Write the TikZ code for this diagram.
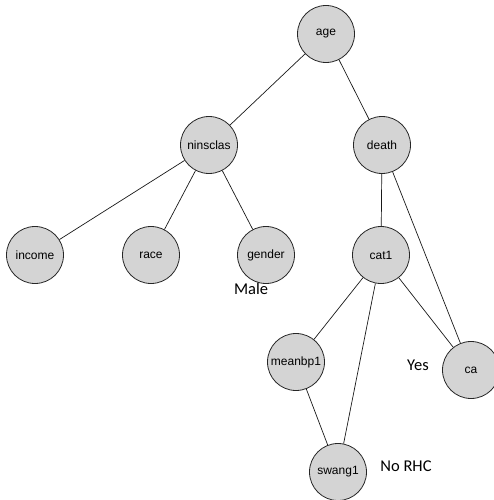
\documentclass[tikz,border=0pt]{standalone}
\usepackage{fontspec}
\setmainfont{Liberation Sans}
\newfontfamily\labelfont{Carlito}
\begin{document}
\begin{tikzpicture}[x=1pt,y=-1pt,
  var/.style={circle, draw=black!85, fill=black!17, line width=0.8pt,
    minimum size=57pt, inner sep=0pt, font=\fontsize{12}{14}\selectfont},
  link/.style={draw=black!90, line width=0.7pt},
  note/.style={font=\labelfont\fontsize{16.5}{19}\selectfont, inner sep=0pt}]
\useasboundingbox (0,0) rectangle (493,500);
% variables
\node[var] (age)      at (326,34)  {age};
\node[var] (ninsclas) at (209,145) {ninsclas};
\node[var] (death)    at (382,145) {death};
\node[var] (income)   at (35,255)  {income};
\node[var] (race)     at (151,255) {race};
\node[var] (gender)   at (266,255) {gender};
\node[var] (cat1)     at (381,255) {cat1};
\node[var] (meanbp1)  at (296,362) {meanbp1};
\node[var] (ca)       at (471,370) {ca};
\node[var] (swang1)   at (338,472) {swang1};
% edges
\draw[link] (age) -- (ninsclas);
\draw[link] (age) -- (death);
\draw[link] (ninsclas) -- (income);
\draw[link] (ninsclas) -- (race);
\draw[link] (ninsclas) -- (gender);
\draw[link] (death) -- (cat1);
\draw[link] (death) -- (ca);
\draw[link] (cat1) -- (meanbp1);
\draw[link] (cat1) -- (swang1);
\draw[link] (cat1) -- (ca);
\draw[link] (meanbp1) -- (swang1);
% level annotations
\node[note] (male)  at (251,289) {Male};
\node[note] (yes)   at (418,365) {Yes};
\node[note] (norhc) at (406,466) {No RHC};
\end{tikzpicture}
\end{document}
